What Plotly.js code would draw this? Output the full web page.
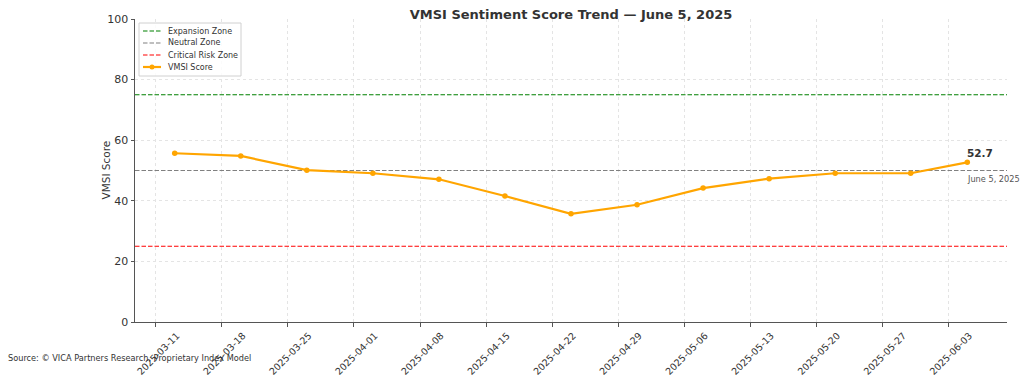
<!DOCTYPE html>
<html>
<head>
<meta charset="utf-8">
<script src="https://cdn.plot.ly/plotly-3.0.1.min.js"></script>
<style>html,body{margin:0;padding:0;background:#fff;}#chart{width:1024px;height:378px;}</style>
</head>
<body>
<div id="chart"></div>
<script>
const dates = ["2025-03-13","2025-03-20","2025-03-27","2025-04-03","2025-04-10","2025-04-17","2025-04-24","2025-05-01","2025-05-08","2025-05-15","2025-05-22","2025-05-30","2025-06-05"];
const scores = [55.7, 54.8, 50.1, 49.1, 47.1, 41.6, 35.7, 38.7, 44.2, 47.3, 49.1, 49.1, 52.7];
const tickDates = ["2025-03-11","2025-03-18","2025-03-25","2025-04-01","2025-04-08","2025-04-15","2025-04-22","2025-04-29","2025-05-06","2025-05-13","2025-05-20","2025-05-27","2025-06-03"];
const zoneNames = ["Expansion Zone","Neutral Zone","Critical Risk Zone"];
const zoneLevels = [75, 50, 25];
const zoneColors = ["#008000","#808080","#ff0000"];
const xRange = ["2025-03-08 19:00","2025-06-09 05:00"];
const lastLabel = "52.7";
const dateLabel = "June 5, 2025";
const seriesName = "VMSI Score";

const W = 1024, H = 378, L = 135, R = 17, T = 19, B = 56;
const PW = W - L - R, PH = H - T - B;
const px = v => (v - L) / PW;
const py = v => (H - B - v) / PH;

const dashPat = "4.5px,2px";
const traces = zoneNames.map((n,i)=>({
  x: xRange, y: [zoneLevels[i], zoneLevels[i]], mode:'lines', name:n,
  line:{color:zoneColors[i], width:1.2, dash:dashPat}, hoverinfo:'skip'
}));
traces.push({
  x: dates, y: scores, mode:'lines+markers', name:seriesName,
  line:{color:'#ffa500', width:2.2}, marker:{color:'#ffa500', size:5.5}
});

// custom compact legend (matplotlib style)
const legNames = zoneNames.concat([seriesName]);
const legColors = zoneColors.concat(['#ffa500']);
const shapes = [{type:'rect', xref:'paper', yref:'paper', x0:px(139), x1:px(241), y0:py(76), y1:py(23),
  line:{color:'#d0d0d0', width:1}, fillcolor:'rgba(255,255,255,0.85)', layer:'above'}];
const annotations = [];
legNames.forEach((n,i)=>{
  const yy = 31 + i*12;
  const isSeries = i === legNames.length - 1;
  shapes.push({type:'line', xref:'paper', yref:'paper', x0:px(143), x1:px(161), y0:py(yy), y1:py(yy),
    line:{color:legColors[i], width:isSeries?2.2:1.2, dash:isSeries?'solid':dashPat}, layer:'above'});
  if (isSeries) {
    shapes.push({type:'circle', xref:'paper', yref:'paper', x0:px(149.5), x1:px(154.5), y0:py(yy+2.5), y1:py(yy-2.5),
      fillcolor:'#ffa500', line:{color:'#ffa500', width:0}, layer:'above'});
  }
  annotations.push({x:px(166), y:py(yy), xref:'paper', yref:'paper', text:n, showarrow:false,
    xanchor:'left', yanchor:'middle', font:{size:8, color:'#333'}});
});

const font = "DejaVu Sans, sans-serif";
annotations.push(
  {x:dates[dates.length-1], y:scores[scores.length-1], xref:'x', yref:'y', text:'<b>'+lastLabel+'</b>', showarrow:false,
   xanchor:'left', yanchor:'bottom', xshift:-2, yshift:1, font:{size:10.5, color:'#333'}},
  {x:dates[dates.length-1], y:zoneLevels[1], xref:'x', yref:'y', text:dateLabel, showarrow:false,
   xanchor:'left', yanchor:'top', xshift:-2, yshift:-1, font:{size:8.2, color:'#555'}},
  {x:px(6), y:py(358), xref:'paper', yref:'paper', text:'Source: © VICA Partners Research, Proprietary Index Model', showarrow:false,
   xanchor:'left', yanchor:'middle', font:{size:8.2, color:'#333'}},
  {x:px(105), y:0.5, xref:'paper', yref:'paper', text:'VMSI Score', textangle:-90, showarrow:false,
   xanchor:'center', yanchor:'middle', font:{size:10.5, color:'#333'}}
);

const layout = {
  width:W, height:H,
  margin:{l:L, r:R, t:T, b:B},
  paper_bgcolor:'#fff', plot_bgcolor:'#fff',
  font:{family:font, color:'#333', size:11},
  title:{text:'<b>VMSI Sentiment Score Trend — June 5, 2025</b>', x:0.5, xref:'paper', xanchor:'center', y:0.975, yanchor:'top', font:{family:font, size:13, color:'#333'}},
  xaxis:{
    type:'date', range:xRange, tickvals:tickDates, ticktext:tickDates, tickangle:-45,
    tickfont:{size:9.5, color:'#333'}, showline:true, linecolor:'#555', linewidth:1,
    ticks:'outside', ticklen:3.5, tickcolor:'#555', ticklabelshift:21,
    showgrid:true, gridcolor:'#e4e4e4', griddash:'dot', zeroline:false
  },
  yaxis:{
    range:[0,100], tickvals:[0,20,40,60,80,100], tickfont:{size:11, color:'#333'},
    showline:true, linecolor:'#555', linewidth:1, ticks:'outside', ticklen:3.5, tickcolor:'#555',
    showgrid:true, gridcolor:'#e4e4e4', griddash:'dot', zeroline:false
  },
  showlegend:false,
  shapes: shapes,
  annotations: annotations
};
Plotly.newPlot('chart', traces, layout, {displayModeBar:false, staticPlot:true});
</script>
</body>
</html>
